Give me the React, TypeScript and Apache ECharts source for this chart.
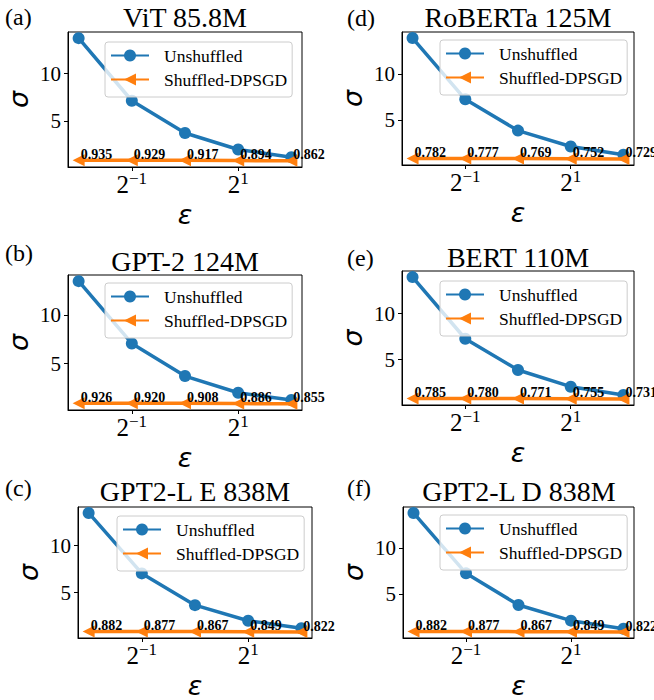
import { useEffect, useRef } from "react";
import * as echarts from "echarts";

// ---- data ----
const epsilons = [0.25, 0.5, 1, 2, 4];
const panelLabels = ["(a)", "(b)", "(c)", "(d)", "(e)", "(f)"];
const panelTitles = ["ViT 85.8M", "GPT-2 124M", "GPT2-L E 838M", "RoBERTa 125M", "BERT 110M", "GPT2-L D 838M"];

const unshuffledViT = [13.7, 7.15, 3.78, 2.05, 1.25];
const shuffledViT = [0.935, 0.929, 0.917, 0.894, 0.862];
const unshuffledGPT2 = [13.5, 7.08, 3.72, 2.0, 1.25];
const shuffledGPT2 = [0.926, 0.92, 0.908, 0.886, 0.855];
const unshuffledGPT2LE = [13.47, 7.05, 3.68, 2.02, 1.23];
const shuffledGPT2LE = [0.882, 0.877, 0.867, 0.849, 0.822];
const unshuffledRoBERTa = [14.0, 7.28, 3.84, 2.1, 1.2];
const shuffledRoBERTa = [0.782, 0.777, 0.769, 0.752, 0.729];
const unshuffledBERT = [13.99, 7.28, 3.88, 2.06, 1.16];
const shuffledBERT = [0.785, 0.78, 0.771, 0.755, 0.731];
const unshuffledGPT2LD = [13.86, 7.25, 3.78, 2.07, 1.18];
const shuffledGPT2LD = [0.882, 0.877, 0.867, 0.849, 0.822];

const unshuffledSets = [unshuffledViT, unshuffledGPT2, unshuffledGPT2LE, unshuffledRoBERTa, unshuffledBERT, unshuffledGPT2LD];
const shuffledSets = [shuffledViT, shuffledGPT2, shuffledGPT2LE, shuffledRoBERTa, shuffledBERT, shuffledGPT2LD];

const xTickValues = [0.5, 2];
const yTickValues = [5, 10];
const seriesNames = ["Unshuffled", "Shuffled-DPSGD"];

// ---- layout (pixels) ----
const layouts = [
  { gl: 68, gt: 32, gw: 234, gh: 135, lx: 105, ly: 42, tx: 185, ty: 17.5, px: 5, py: 17 },
  { gl: 68, gt: 275, gw: 234, gh: 135, lx: 105, ly: 283, tx: 185, ty: 261, px: 5, py: 253 },
  { gl: 78, gt: 507, gw: 234, gh: 133, lx: 117, ly: 516, tx: 195, ty: 491, px: 5, py: 488 },
  { gl: 402, gt: 32, gw: 232, gh: 133, lx: 440, ly: 40, tx: 518, ty: 17, px: 347, py: 18 },
  { gl: 402, gt: 271, gw: 232, gh: 134, lx: 440, ly: 281, tx: 518, ty: 257, px: 347, py: 258 },
  { gl: 403, gt: 507, gw: 231, gh: 133, lx: 440, ly: 515, tx: 519, ty: 491, px: 347, py: 488 },
];

const BLUE = "#1f77b4";
const ORANGE = "#ff7f0e";
const SERIF = "Liberation Serif";
const MATH = "DejaVu Sans";

function buildOption() {
  const grids: any[] = [];
  const xAxes: any[] = [];
  const yAxes: any[] = [];
  const series: any[] = [];
  const legends: any[] = [];
  const graphics: any[] = [];

  layouts.forEach((L, i) => {
    const uns = unshuffledSets[i];
    const shf = shuffledSets[i];
    const lo = Math.min(...uns, ...shf);
    const hi = Math.max(...uns, ...shf);
    const r = hi - lo;

    grids.push({
      left: L.gl,
      top: L.gt,
      width: L.gw,
      height: L.gh,
      containLabel: false,
      show: true,
      borderColor: "#000",
      borderWidth: 1,
      backgroundColor: "transparent",
    });

    xAxes.push({
      type: "log",
      logBase: 2,
      gridIndex: i,
      min: Math.pow(2, -2.2),
      max: Math.pow(2, 2.2),
      name: "ε",
      nameLocation: "middle",
      nameGap: 34,
      nameTextStyle: { fontFamily: MATH, fontStyle: "italic", fontSize: 27, color: "#000" },
      axisLine: { show: true, onZero: false, lineStyle: { color: "#000", width: 1 } },
      axisTick: { show: true, length: 4, lineStyle: { color: "#000" }, customValues: xTickValues },
      minorTick: { show: false },
      splitLine: { show: false },
      axisLabel: {
        customValues: xTickValues,
        margin: 3,
        formatter: (v: number) => {
          const e = Math.round(Math.log2(v));
          return "{b|2}{s|" + (e < 0 ? "\u2212" : "") + Math.abs(e) + "}";
        },
        rich: {
          b: { fontFamily: SERIF, fontSize: 25, lineHeight: 28, color: "#000" },
          s: { fontFamily: SERIF, fontSize: 17, lineHeight: 14, verticalAlign: "top", color: "#000" },
        },
      },
    });

    yAxes.push({
      type: "value",
      gridIndex: i,
      min: lo - 0.05 * r,
      max: hi + 0.05 * r,
      name: "σ",
      nameLocation: "middle",
      nameRotate: 90,
      nameGap: 36,
      nameTextStyle: { fontFamily: MATH, fontStyle: "italic", fontSize: 27, color: "#000" },
      axisLine: { show: true, lineStyle: { color: "#000", width: 1 } },
      axisTick: { show: true, length: 4, lineStyle: { color: "#000" }, customValues: yTickValues },
      splitLine: { show: false },
      axisLabel: {
        customValues: yTickValues,
        margin: 7,
        fontFamily: SERIF,
        fontSize: 21,
        color: "#000",
      },
    });

    series.push({
      type: "line",
      name: seriesNames[0],
      xAxisIndex: i,
      yAxisIndex: i,
      data: epsilons.map((e, j) => [e, uns[j]]),
      symbol: "circle",
      symbolSize: 12,
      lineStyle: { width: 3.5, color: BLUE },
      itemStyle: { color: BLUE },
      clip: false,
      z: 2,
    });

    series.push({
      type: "line",
      name: seriesNames[1],
      xAxisIndex: i,
      yAxisIndex: i,
      data: epsilons.map((e, j) => [e, shf[j]]),
      symbol: "triangle",
      symbolRotate: 90,
      symbolSize: 12,
      lineStyle: { width: 3.5, color: ORANGE },
      itemStyle: { color: ORANGE },
      clip: false,
      z: 3,
      label: {
        show: true,
        position: "inside",
        align: "left",
        verticalAlign: "bottom",
        offset: [2, 1],
        formatter: (p: any) => Number(p.value[1]).toFixed(3),
        fontFamily: SERIF,
        fontWeight: "bold",
        fontSize: 14,
        color: "#000",
      },
    });

    legends.push({
      orient: "vertical",
      left: L.lx,
      top: L.ly,
      itemWidth: 38,
      itemHeight: 15,
      itemGap: 5,
      padding: [4, 5, 8, 5],
      backgroundColor: "rgba(255,255,255,0.8)",
      borderColor: "#cccccc",
      borderWidth: 1,
      borderRadius: 3,
      selectedMode: false,
      textStyle: { fontFamily: SERIF, fontSize: 17.5, color: "#000", lineHeight: 19, padding: [0, 0, 0, 10] },
      data: seriesNames,
    });

    graphics.push({
      type: "text",
      x: L.tx,
      y: L.ty,
      style: {
        text: panelTitles[i],
        fontFamily: SERIF,
        fontSize: 28,
        fill: "#000",
        align: "center",
        verticalAlign: "middle",
        textAlign: "center",
        textVerticalAlign: "middle",
      },
    });
    graphics.push({
      type: "text",
      x: L.px,
      y: L.py,
      style: {
        text: panelLabels[i],
        fontFamily: SERIF,
        fontSize: 24,
        fill: "#000",
        align: "left",
        verticalAlign: "middle",
        textAlign: "left",
        textVerticalAlign: "middle",
      },
    });
  });

  return {
    animation: false,
    backgroundColor: "#fff",
    grid: grids,
    xAxis: xAxes,
    yAxis: yAxes,
    series,
    legend: legends,
    graphic: graphics,
  };
}

export default function App() {
  const ref = useRef<HTMLDivElement>(null);
  useEffect(() => {
    if (!ref.current) return;
    const chart = echarts.init(ref.current, undefined, { renderer: "svg" });
    chart.setOption(buildOption() as any);
    return () => chart.dispose();
  }, []);
  return (
    <div
      ref={ref}
      style={{ position: "absolute", left: 0, top: 0, width: 654, height: 700, background: "#fff" }}
    />
  );
}
